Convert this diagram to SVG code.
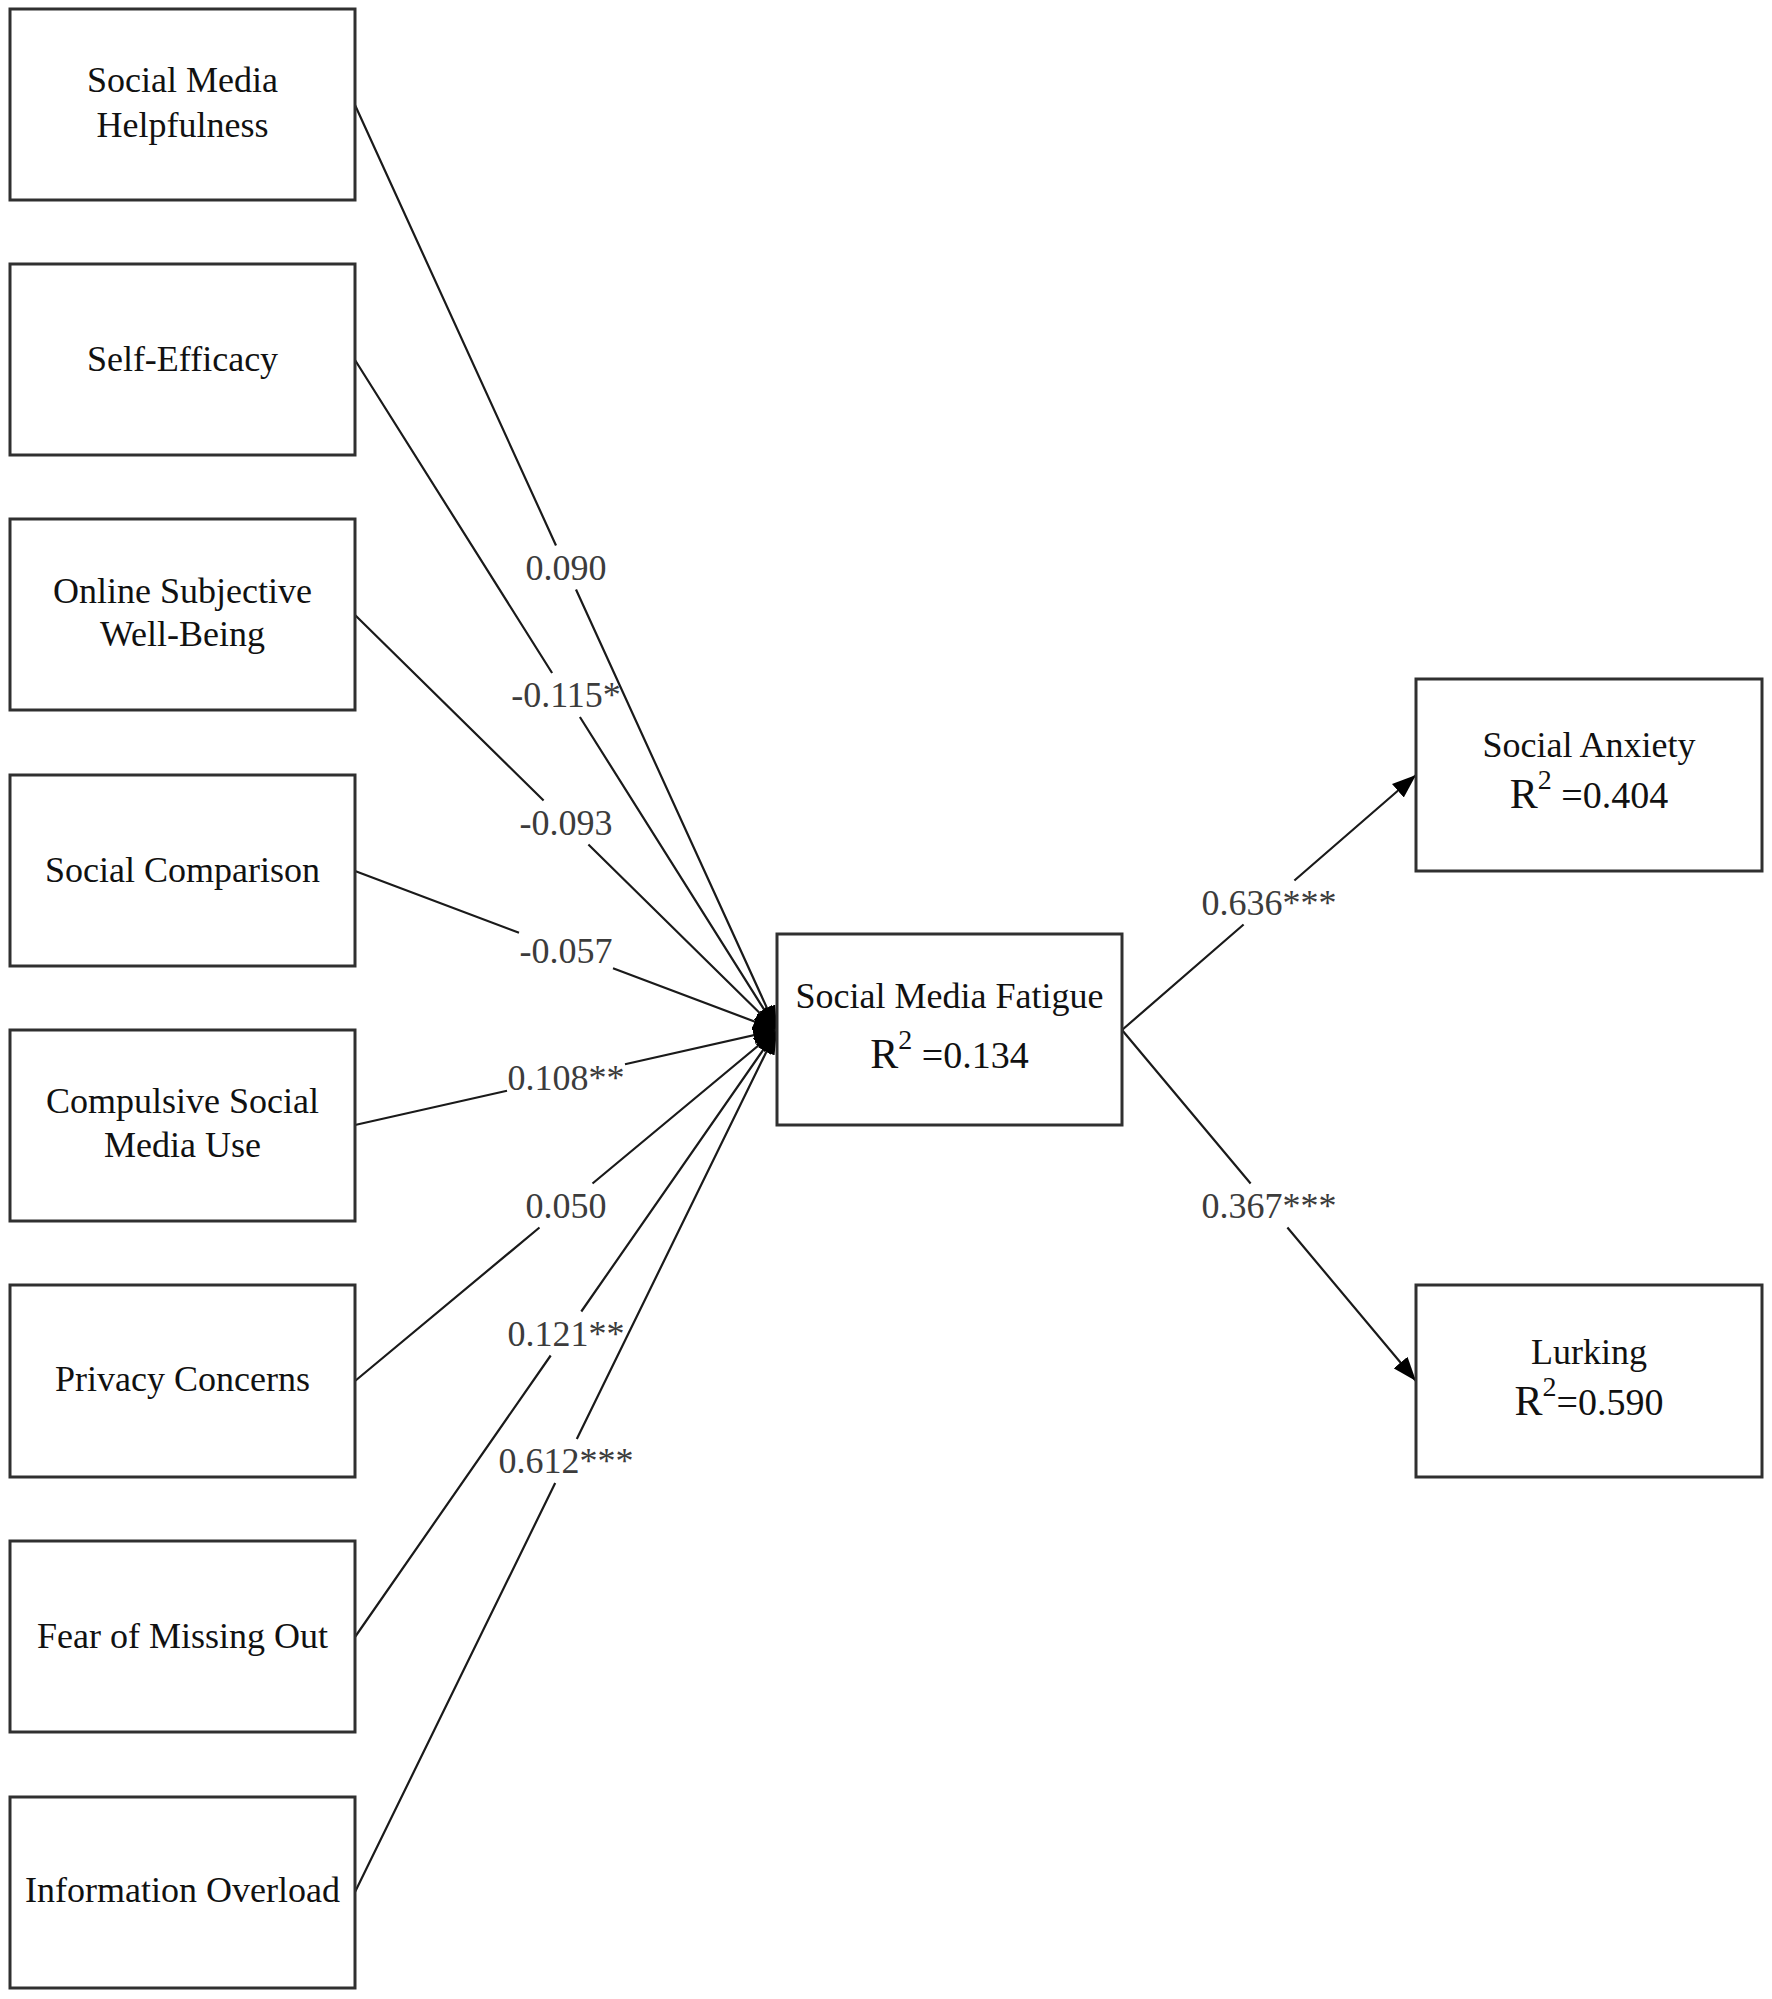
<svg xmlns="http://www.w3.org/2000/svg" width="1772" height="1999" viewBox="0 0 1772 1999">
<style>
.box{fill:#fff;stroke:#303030;stroke-width:3}
.t{font-family:"Liberation Serif","Times New Roman",serif;font-size:36px;fill:#111;text-anchor:middle}
.r{font-family:"Liberation Serif","Times New Roman",serif;font-size:38px;fill:#111;text-anchor:middle}
.lbl{font-family:"Liberation Serif","Times New Roman",serif;font-size:36px;fill:#3c3c3c;text-anchor:middle}
.c{fill:none;stroke:#1a1a1a;stroke-width:2.2;marker-end:url(#arr)}
</style>
<defs>
<marker id="arr" markerUnits="userSpaceOnUse" viewBox="0 0 24 18" refX="24" refY="9" markerWidth="24" markerHeight="18" orient="auto">
<path d="M0,0 L24,9 L0,18 z" fill="#000"/>
</marker>
</defs>
<rect width="1772" height="1999" fill="#fff"/>
<g id="connectors">
<path class="c" d="M355,105 L556,545.5 M576,589.5 L777,1030"/>
<path class="c" d="M355,360 L552.1,673 M579.9,717 L777,1030"/>
<path class="c" d="M355,615 L543.6,800.5 M588.4,844.5 L777,1030"/>
<path class="c" d="M355,871 L519,932.8 M613,968.2 L777,1030"/>
<path class="c" d="M355,1125 L507,1090.8 M625,1064.2 L777,1030"/>
<path class="c" d="M355,1381 L539.5,1227.5 M592.5,1183.5 L777,1030"/>
<path class="c" d="M355,1637 L550.7,1355.5 M581.3,1311.5 L777,1030"/>
<path class="c" d="M355,1892 L555.2,1483 M576.8,1439 L777,1030"/>
<path class="c" d="M1122,1030 L1243.6,924.5 M1294.4,880.5 L1416,775"/>
<path class="c" d="M1122,1030 L1250.6,1183.5 M1287.4,1227.5 L1416,1381"/>
<text class="lbl" x="566" y="580">0.090</text>
<text class="lbl" x="566" y="707">-0.115*</text>
<text class="lbl" x="566" y="835">-0.093</text>
<text class="lbl" x="566" y="963">-0.057</text>
<text class="lbl" x="566" y="1090">0.108**</text>
<text class="lbl" x="566" y="1218">0.050</text>
<text class="lbl" x="566" y="1346">0.121**</text>
<text class="lbl" x="566" y="1473">0.612***</text>
<text class="lbl" x="1269" y="915">0.636***</text>
<text class="lbl" x="1269" y="1218">0.367***</text>
</g>
<g id="n-helpfulness">
<rect class="box" x="10" y="9" width="345" height="191"/>
<text class="t" x="182.5" y="92">Social Media</text>
<text class="t" x="182.5" y="137">Helpfulness</text>
</g>
<g id="n-selfefficacy">
<rect class="box" x="10" y="264" width="345" height="191"/>
<text class="t" x="182.5" y="371">Self-Efficacy</text>
</g>
<g id="n-wellbeing">
<rect class="box" x="10" y="519" width="345" height="191"/>
<text class="t" x="182.5" y="603">Online Subjective</text>
<text class="t" x="182.5" y="646">Well-Being</text>
</g>
<g id="n-comparison">
<rect class="box" x="10" y="775" width="345" height="191"/>
<text class="t" x="182.5" y="882">Social Comparison</text>
</g>
<g id="n-compulsive">
<rect class="box" x="10" y="1030" width="345" height="191"/>
<text class="t" x="182.5" y="1113">Compulsive Social</text>
<text class="t" x="182.5" y="1157">Media Use</text>
</g>
<g id="n-privacy">
<rect class="box" x="10" y="1285" width="345" height="192"/>
<text class="t" x="182.5" y="1391">Privacy Concerns</text>
</g>
<g id="n-fomo">
<rect class="box" x="10" y="1541" width="345" height="191"/>
<text class="t" x="182.5" y="1648">Fear of Missing Out</text>
</g>
<g id="n-overload">
<rect class="box" x="10" y="1797" width="345" height="191"/>
<text class="t" x="182.5" y="1902">Information Overload</text>
</g>
<g id="n-fatigue">
<rect class="box" x="777" y="934" width="345" height="191"/>
<text class="t" x="949.5" y="1008">Social Media Fatigue</text>
<text class="r" x="949.5" y="1068"><tspan font-size="42">R</tspan><tspan font-size="28" dy="-19">2</tspan><tspan dy="19"> =0.134</tspan></text>
</g>
<g id="n-anxiety">
<rect class="box" x="1416" y="679" width="346" height="192"/>
<text class="t" x="1589" y="757">Social Anxiety</text>
<text class="r" x="1589" y="808"><tspan font-size="42">R</tspan><tspan font-size="28" dy="-19">2</tspan><tspan dy="19"> =0.404</tspan></text>
</g>
<g id="n-lurking">
<rect class="box" x="1416" y="1285" width="346" height="192"/>
<text class="t" x="1589" y="1364">Lurking</text>
<text class="r" x="1589" y="1415"><tspan font-size="42">R</tspan><tspan font-size="28" dy="-19">2</tspan><tspan dy="19">=0.590</tspan></text>
</g>
</svg>
